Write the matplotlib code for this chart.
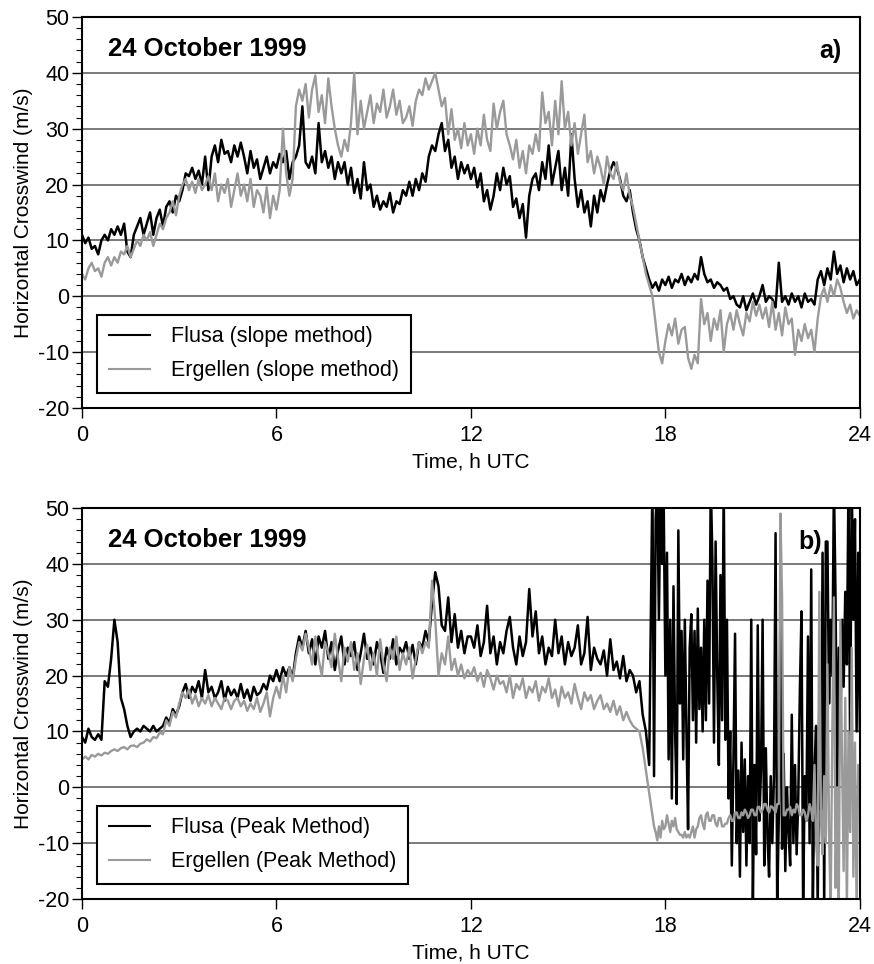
import numpy as np
import matplotlib.pyplot as plt
from matplotlib.ticker import MultipleLocator

plt.rcParams['font.family'] = ['Liberation Sans', 'DejaVu Sans']
plt.rcParams['axes.unicode_minus'] = False

# time axis, h UTC: panel a) every 0.1 h,
# panel b) every 0.1 h up to 17.4 h and every 0.05 h from 17.5 h on
hours_a = np.round(np.arange(0, 24.05, 0.1), 2)
hours_b = np.round(np.concatenate([np.arange(0, 17.45, 0.1),
                                   np.arange(17.5, 24.025, 0.05)]), 2)

# a) slope method
flusa_slope = [
    11, 9.5, 10.5, 8.5, 9, 7.5, 10, 11, 10, 12,
    11, 12.5, 11, 13, 8, 7, 11, 12.5, 14, 11,
    13, 15, 11, 14, 15.5, 12.5, 16, 17, 15, 18,
    17, 19, 22, 21.5, 23, 21, 22.5, 20, 25, 19,
    25, 27, 24, 28, 25.5, 26, 24, 27, 25, 27.5,
    25, 22, 26, 23, 24.5, 21, 23, 25, 22, 24,
    23, 25.5, 24, 26, 21, 24, 25, 27, 34, 24,
    23, 25, 22, 31, 24, 26, 23, 25, 21, 24,
    22, 24, 20, 23, 18.5, 21, 17.5, 24, 19, 20,
    16, 18, 15.5, 17, 16, 18.5, 15, 17, 16.5, 19,
    18, 20.5, 18, 21, 19, 22, 20.5, 25, 27, 26,
    29, 31, 26, 28, 23, 25, 21, 24, 22, 23.5,
    21, 23, 19.5, 22, 17, 19, 15.5, 18, 22, 19,
    23, 20, 21.5, 16, 17.5, 14, 16.5, 10.5, 18, 21,
    22, 19, 24, 21, 27, 20, 23, 26, 19, 23,
    18, 29, 21, 16, 19, 15, 17, 12.5, 18, 15,
    19, 17, 20, 22.5, 24, 23, 21, 18, 17, 19,
    15, 12, 10, 7, 5, 3, 1.5, 2.5, 1, 3,
    2, 3.5, 1.5, 3, 2.5, 4, 2, 3.5, 2.5, 4,
    3, 7, 4, 2.5, 3, 1.5, 2.5, 2, 1, 1.5,
    -0.5, 0, -1.5, -2, 0, -2.5, -1, 0.5, -1.5, 0,
    2, -1, 0, -0.5, -2, 6, -1, 0, -1.5, 0.5,
    -1, 0, -2, 0.5, -1, -0.5, -1.5, 3, 4.5, 2,
    5, 3, 8, 4, 5.5, 2.5, 5, 3, 4.5, 2,
    3,
]
ergellen_slope = [
    4, 3, 5, 6, 4.5, 5, 3.5, 6, 7, 5.5,
    7, 6, 8, 7.5, 9, 7, 8.5, 10, 9, 11,
    10, 11.5, 9, 11, 13, 12, 14, 15, 17, 14.5,
    18, 20, 21, 19, 20.5, 18.5, 21, 19, 20, 21.5,
    19, 22, 17, 20, 18.5, 21, 16, 19, 22, 18,
    20, 17, 21, 16, 19, 18, 15, 19.5, 14, 18,
    15.5, 19, 30, 22, 18, 21, 34, 37, 35, 38,
    32, 37, 39.5, 33, 36, 31, 39, 34, 30, 27,
    25, 28, 26, 31, 40, 29, 35, 30, 33, 36,
    31, 34.5, 33, 37, 32, 34, 37, 32.5, 35, 31,
    32, 34, 30.5, 35, 37, 36, 39, 37, 38.5, 40,
    37, 34, 35.5, 29, 33.5, 28, 30, 26.5, 31, 27,
    29, 25.5, 30, 27, 32.5, 28, 26, 34.5, 30, 33,
    35, 29, 27, 24.5, 28, 23, 26, 22, 27, 25.5,
    29, 26, 36.5, 31, 33, 27, 35, 29, 38.5, 30,
    33, 27, 31, 25.5, 29, 32.5, 24, 26, 22, 25,
    23, 20, 25, 22, 21, 24, 20.5, 19, 22, 18,
    16, 13, 10, 7, 4, 2, 0, -5, -10, -12,
    -8, -5, -7, -4, -8.5, -6, -5.5, -11, -13, -10.5,
    -12, -0.5, -5, -3, -8, -4, -6, -2.5, -10, -5,
    -3, -6, -2.5, -5, -7, -3, -4.5, -1, -3.5, -1.5,
    -4, -2, -5.5, -1, -6, -3, -7, -2, -5, -4,
    -10.5, -6, -8, -5, -7.5, -6, -10, -4, 0, 1.5,
    -1, 2, 0, 3, 1.5, -1, -3, -1.5, -4, -2.5,
    -3.5,
]

# b) peak method
flusa_peak = [
    9, 8, 10.5, 9, 8.5, 9.5, 8.5, 19, 18, 23,
    30, 26, 16, 14, 11, 9, 10, 10.5, 10, 11,
    10.5, 10, 11, 10, 10.5, 11, 12.5, 11.5, 14, 13,
    14.5, 17, 18.5, 16, 18, 17, 19, 16, 21, 17,
    18, 16, 17, 19, 15.5, 18, 16.5, 17.5, 16, 18.5,
    16, 17.5, 15.5, 18, 16.5, 17, 18.5, 17.5, 20, 19,
    21, 19, 21.5, 20, 21.5, 19.5, 24, 27, 25, 28,
    24, 26.5, 22, 27, 25, 28, 23, 26, 21, 24.5,
    27, 22, 25, 23.5, 26, 21, 24, 27.5, 23, 25,
    22, 26, 24, 20.5, 25, 23, 26.5, 22, 25, 24,
    26, 23, 25.5, 22, 26, 25, 28, 26, 33, 38.5,
    36, 29, 28, 34, 26, 31, 25, 28, 24, 27,
    27, 25, 29, 23.5, 26, 32.5, 24, 27, 22, 26,
    24, 28, 30.5, 25, 22, 27, 23.5, 26, 35.5, 27,
    31.5, 24, 27, 22, 25, 23.5, 30, 24, 27, 22,
    26, 23.5, 25, 29, 22, 24, 30.5, 21, 25, 23,
    22, 24.5, 20, 26.5, 21, 22.5, 19.5, 23.5, 19, 21,
    20, 17, 19, 13, 10,
    # from 17.5 h, every 0.05 h
    4, 30, 55, 2, 48, 55, 30, 55, 40, 50,
    20, 42, 5, 30, -2, 36, 10, -3, 46, 15,
    28, 5, 30, 10, -7.5, 25, 31, 12, 28, 8,
    32, 14, 25, 10, 30, 12, 37, 15, 55, 41,
    8, 44, 20, 4, 38, 12, 55, 8.5, 30, -2,
    10, -14, 5, 27.5, -10, 3, -16, 8, -8, 5,
    -14, 2, -10, 30, -20, 4, -12, 29, -6, 3,
    30, -14, 7, -9, -16, 2, -10, 2, 45.5, -22,
    -5, 33, -11, 6, -15, 0, -8, -14, 13, -10,
    4, -12, -2, 17.5, 31.5, -22, 2, -6, 27, -10,
    39, -22, 3, 11, -22, 15.5, -4, 42, -22, 44,
    44, 15, 30, 20, 55, 34, -2, 25, 10, 30,
    18, 35, 22, 55, 7, 55, 30, 48, 10, 42,
    10,
]
ergellen_peak = [
    5, 5.5, 5, 5.8, 5.5, 6, 5.7, 6.2, 6, 6.5,
    6.8, 6.5, 7, 7.2, 6.8, 7.4, 7.5, 7.2, 7.8, 8,
    8.6, 8.2, 9, 8.8, 9.8, 9.5, 12, 11, 13.5, 12.5,
    15, 17, 16, 17.5, 15, 16.5, 14.5, 16, 15, 16.5,
    14.5, 16, 15, 14, 16, 15.5, 14, 15.5, 16, 14.5,
    15.5, 13.7, 15, 14, 16, 13.5, 15, 17, 12.7, 16,
    18, 16, 20, 17, 21.5, 19, 23, 26, 24.5, 27.5,
    25, 22, 27, 23, 20, 26, 24, 21.5, 27.5, 23,
    19, 25, 22.5, 26, 21, 24, 18.5, 23, 25.5, 21,
    24, 20, 26.5, 22, 19, 25, 23, 27, 21, 24,
    22, 25, 19.5, 23, 26, 24, 26, 25, 37, 30,
    20, 24, 22, 27, 21, 23, 20, 22, 19.5, 21,
    20, 21.5, 19, 20.5, 18, 21, 19.5, 17.5, 20, 18.5,
    19, 17, 20, 16, 18.5, 17.5, 19.5, 16, 18, 17,
    19, 15.5, 18, 17, 19.5, 16, 17.5, 14.5, 18, 16,
    17, 15, 18.5, 16, 14, 17, 15.5, 16.5, 14, 15.5,
    16.5, 14, 15, 13.5, 15.5, 13, 14.5, 12, 13.5, 12,
    11, 10.5, 10, 7, 3,
    # from 17.5 h, every 0.05 h
    -1, -3, -5, -7, -8, -9.5, -7, -9, -6, -7.5,
    -7, -5, -6.5, -8, -6, -7, -5.5, -7.5, -8, -8.5,
    -8.5, -9, -8, -9, -8.5, -9, -8, -7, -9, -7.5,
    -7, -5.5, -5, -6.5, -7.5, -5, -4.5, -6, -6, -5,
    -5, -6.5, -7, -5.5, -5.5, -7, -7, -6.5, -6.5, -5.5,
    -5, -6, -6, -4.5, -4.5, -5.5, -5.5, -4.5, -5, -4,
    -4.5, -5.5, -5, -4, -4, -5, -5, -3.5, -3.5, -4.5,
    -4, -3, -3, -4, -4.5, -3.4, -3.5, -4, -4.5, -3,
    -3, 49, 34, -5, -5, -4, -4, -3.5, -5, -4,
    -4.5, -3, -3.5, -5, -5, -4, -4.5, -6, -5, -3,
    -4, -6, 4, -10, -14, 35, -6, -12, 2, -10,
    22, -8, -22, 10, 34, -18, 0, -22, 30, 5,
    -15, 16, -22, 10, -8, 25, -16, 8, -22, 4,
    -3,
]

panels = [
    (hours_a, flusa_slope, ergellen_slope, 'slope method', 'a)', 0.977,
     [0.0938, 0.5768, 0.890, 0.4056]),
    (hours_b, flusa_peak, ergellen_peak, 'Peak Method', 'b)', 0.951,
     [0.0938, 0.0674, 0.890, 0.4056]),
]

fig = plt.figure(figsize=(8.74, 9.64), dpi=100)

for hrs, fl, er, method, tag, tag_x, rect in panels:
    ax = fig.add_axes(rect)
    ax.plot(hrs, fl, color='black', lw=1.8, label='Flusa (%s)' % method)
    ax.plot(hrs, er, color='#9a9a9a', lw=1.7, label='Ergellen (%s)' % method)

    ax.set_xlim(0, 24)
    ax.set_ylim(-20, 50)
    ax.set_xticks([0, 6, 12, 18, 24])
    ax.yaxis.set_major_locator(MultipleLocator(10))
    ax.yaxis.set_minor_locator(MultipleLocator(2))
    ax.grid(axis='y', which='major', color='#555555', lw=1.1)
    ax.set_axisbelow(True)
    for s in ax.spines.values():
        s.set_linewidth(1.5)
    ax.tick_params(axis='both', which='major', direction='out', length=7,
                   width=1, labelsize=15.5)
    ax.tick_params(axis='y', pad=2)
    ax.tick_params(axis='x', pad=5)
    ax.tick_params(axis='y', which='minor', direction='out', length=4, width=0.8)

    ax.set_xlabel('Time, h UTC', fontsize=15, labelpad=5)
    ax.set_ylabel('Horizontal Crosswind (m/s)', fontsize=15)
    ax.yaxis.set_label_coords(-0.063, 0.5)

    ax.text(0.033, 0.918, '24 October 1999', transform=ax.transAxes,
            fontsize=18.5, fontweight='bold', ha='left', va='center')
    ax.text(tag_x, 0.912, tag, transform=ax.transAxes,
            fontsize=18, fontweight='bold', ha='right', va='center')

    leg = ax.legend(loc='lower left', bbox_to_anchor=(0.019, 0.038),
                    borderaxespad=0, fancybox=False, edgecolor='black',
                    framealpha=1, fontsize=15.5, handlelength=1.9,
                    handletextpad=1.0, labelspacing=0.6, borderpad=0.55)
    leg.get_frame().set_linewidth(1.5)
    for h in leg.get_lines():
        h.set_linewidth(1.5)

fig.savefig('out.png', dpi=100)
